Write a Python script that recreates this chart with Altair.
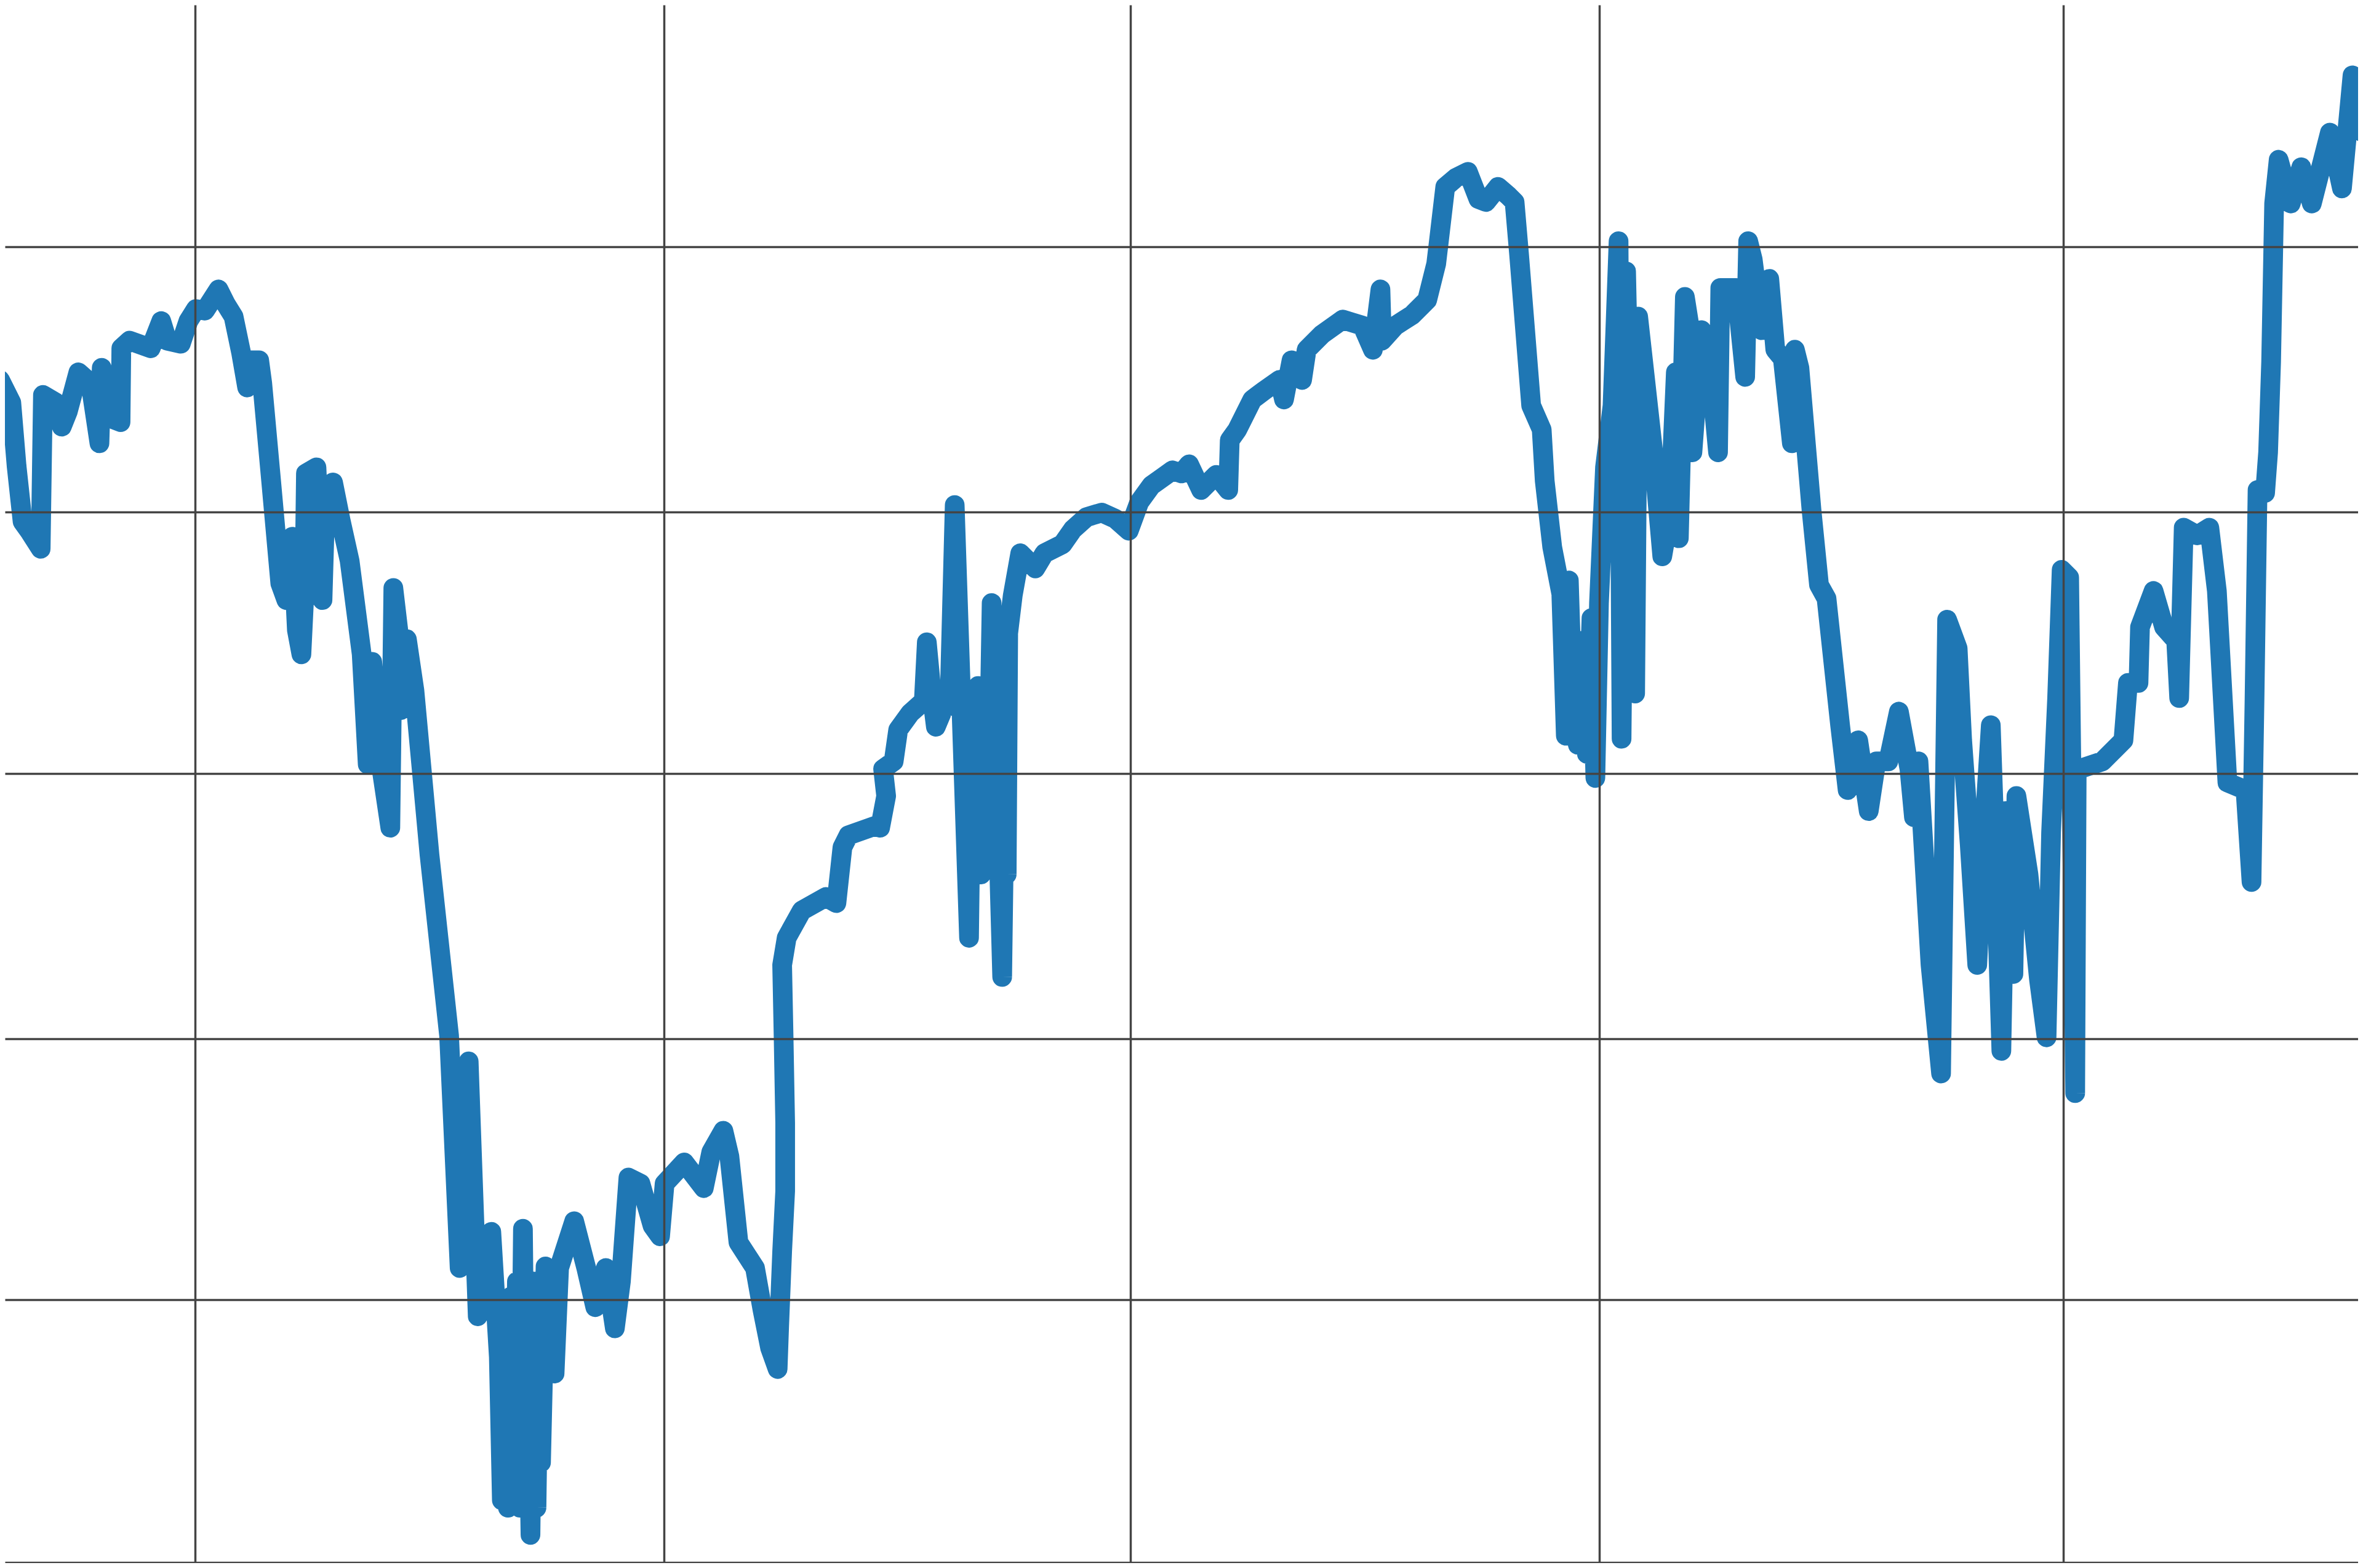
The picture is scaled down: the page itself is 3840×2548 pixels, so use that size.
import altair as alt
import pandas as pd

# time index (trading-day style position)
t = [0, 7.5, 11, 15, 20, 27, 28.5, 37, 41, 45, 52, 60, 66, 67.5, 75, 80, 80.5, 86, 100, 107,
     111, 120, 125, 130, 136, 145, 150, 155, 160, 164, 166, 172, 174, 180, 186, 190, 194, 197, 200, 202,
     203, 210, 214, 216, 221, 226, 232, 240, 244, 247, 252, 259, 261, 265, 266, 270, 275, 285, 298, 305,
     311, 317, 322, 326, 331, 333, 335, 337, 339, 341, 343, 345, 347, 349, 350, 352, 354, 356, 358, 359,
     362, 368, 371, 381, 389, 395,
     402, 408, 412, 417, 425, 433, 438, 441, 454, 467, 472, 480, 484, 490, 501, 506, 511, 516, 517, 519,
     521, 521, 520, 519, 522, 532, 548, 555, 559, 563, 580, 584, 588, 586, 593, 596, 604, 613, 615, 618,
     621, 626, 630, 633.5, 643, 645, 647, 649, 651, 653, 655, 658, 662, 665, 667, 668, 669, 672, 677, 687, 693, 705, 712, 721,
     731, 740, 749, 756, 764, 778, 784, 789, 797, 807, 815, 816, 821, 831, 839, 849, 852, 857, 864, 867,
     877, 891, 904, 911, 916, 917, 926, 937, 947, 953, 955, 959, 966, 974, 981, 986, 994, 1001, 1005, 1008,
     1016, 1023, 1025, 1030, 1036, 1039, 1041, 1044, 1047, 1050, 1053, 1056, 1058.6, 1061, 1065, 1070, 1074, 1076, 1079, 1085, 1087, 1097,
     1103, 1108, 1112, 1114, 1118, 1121, 1123, 1129, 1136, 1140, 1141.5, 1152, 1158, 1160, 1163, 1169, 1174, 1178, 1183, 1189,
     1191, 1194, 1202, 1207, 1212, 1221, 1226, 1233, 1240, 1245, 1253, 1260, 1267, 1270, 1273, 1281, 1288, 1290, 1292, 1299,
     1302, 1307, 1312, 1316, 1321, 1325, 1328, 1331, 1336, 1338, 1346, 1353, 1358, 1361, 1365, 1368, 1373, 1377, 1378, 1380,
     1395, 1409, 1412, 1419, 1420, 1429, 1436, 1444, 1446, 1449, 1458, 1466, 1471, 1478, 1490, 1494, 1496, 1498, 1503, 1505,
     1507, 1509, 1512, 1520, 1527, 1534, 1546, 1554, 1561, 1568]

# series value
v = [848, 833, 791, 754, 747, 736, 838, 833, 817, 827, 853, 846, 806, 856, 822, 820, 869, 874, 869, 887,
     874, 872, 887, 895, 894, 908, 898, 890, 866, 843, 861, 861, 846, 780, 713, 702, 744, 682, 666, 707,
     786, 790, 702, 770, 780, 755, 728, 666, 593, 661, 598, 551, 710, 676, 629, 676, 642, 533, 413, 259,
     396, 227, 265, 283, 200, 105, 215, 100, 240, 105, 250, 100, 285, 100, 200, 82, 250, 100, 240, 130,
     260, 189, 259, 290, 259, 233,
     259, 219, 250, 319, 315, 287, 280, 315, 329, 312, 336, 350, 333, 276, 259, 231, 206, 192, 220, 270,
     310, 355, 410, 460, 478, 496, 505, 501, 538, 546, 552, 551, 572, 590, 595, 616, 627, 635, 674, 642,
     618, 630, 632, 765, 478, 630, 530, 645, 520, 640, 528, 700, 560, 452, 600, 520, 680, 705, 733, 723, 733, 739, 749, 757,
     760, 756, 748, 767, 778, 788, 786, 792, 775, 785, 775, 808, 815, 835, 841, 848, 835, 861, 848, 868,
     878, 888, 884, 868, 908, 874, 884, 891, 901, 925, 942, 976, 982, 986, 968, 966, 976, 970, 966, 931,
     831, 815, 781, 737, 706, 612, 715, 620, 606, 675, 600, 690, 584, 700, 790, 831, 940, 610, 920, 640, 890, 800,
     731, 760, 853, 743, 903, 884, 800, 881, 843, 800, 909, 909, 850, 940, 928, 881, 915, 868, 862, 806,
     868, 856, 762, 712, 703, 619, 576, 609, 562, 595, 595, 628, 590, 558, 595, 460, 388, 540, 689, 670,
     609, 540, 460, 540, 619, 500, 403, 562, 454, 572, 520, 450, 412, 548, 637, 722, 717, 375, 590, 590,
     595, 609, 647, 647, 684, 708, 684, 675, 637, 750, 745, 750, 708, 581, 576, 515, 637, 775, 773, 800,
     860, 965, 994, 965, 989, 965, 1012, 975, 1050, 1012]

# gridline positions
x_ticks = [129.4, 440.6, 750.1, 1061.3, 1369.1]
y_ticks = [936.3, 760.3, 587.1, 411.1, 238.0, 63.7]

df = pd.DataFrame({"t": t, "v": v, "i": list(range(len(t)))})

W, H = 3824, 2532

chart = (
    alt.Chart(df)
    .mark_line(color="#1f77b4", strokeWidth=32, strokeJoin="round", strokeCap="round", clip=True)
    .encode(
        x=alt.X("t:Q",
                scale=alt.Scale(domain=[3.27, 1564.7], nice=False, zero=False),
                axis=alt.Axis(values=x_ticks, labels=False, ticks=False, domain=False, title=None,
                              grid=True, gridColor="#444444", gridWidth=3.5, gridOpacity=1, zindex=1)),
        y=alt.Y("v:Q",
                scale=alt.Scale(domain=[63.3, 1096.7], nice=False, zero=False),
                axis=alt.Axis(values=y_ticks, labels=False, ticks=False, domain=False, title=None,
                              grid=True, gridColor="#444444", gridWidth=3.5, gridOpacity=1, zindex=1)),
        order=alt.Order("i:Q"),
    )
    .properties(width=W, height=H, autosize=alt.AutoSizeParams(type="none"), padding=0,
                background="white")
    .configure_view(stroke=None)
)

chart.save("out.html", embed_options={"renderer": "svg", "actions": False})
